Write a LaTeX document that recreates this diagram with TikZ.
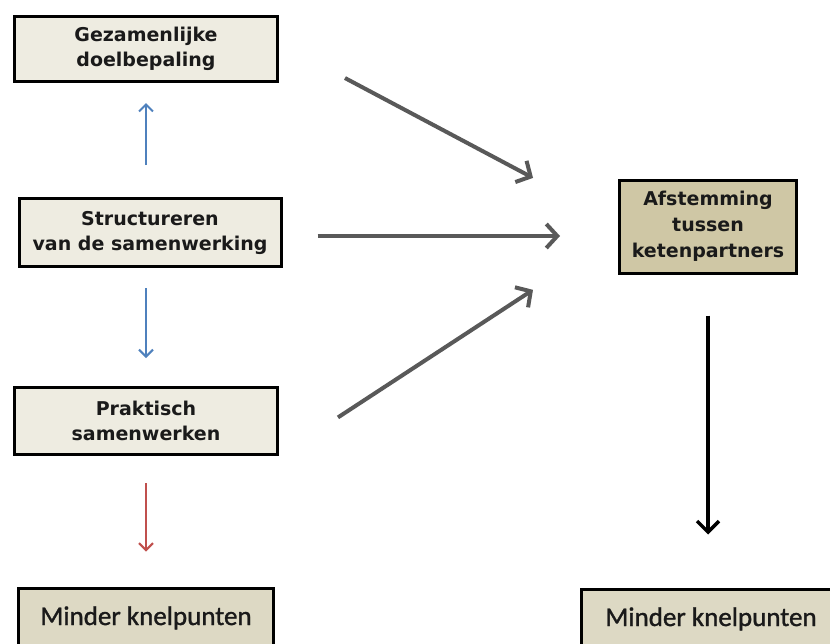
\documentclass[tikz,border=0pt]{standalone}
\usepackage{fontspec}
\setmainfont{DejaVu Sans}
\newfontfamily\calfont[FakeBold=1.2]{Carlito}
\usetikzlibrary{arrows.meta}
\definecolor{boxlight}{HTML}{EEECE1}
\definecolor{boxtan}{HTML}{CFC7A5}
\definecolor{boxmid}{HTML}{DDD9C4}
\definecolor{arrgray}{HTML}{595959}
\definecolor{arrblue}{HTML}{4F81BD}
\definecolor{arrred}{HTML}{C0504D}
\definecolor{txt}{HTML}{1A1A1A}
\begin{document}
\begin{tikzpicture}[x=1pt,y=-1pt,
  box/.style={draw=black, line width=3pt, fill=boxlight, align=center, text=txt,
    font=\fontsize{19}{25}\selectfont\bfseries, inner sep=0pt},
  endbox/.style={draw=black, line width=3pt, fill=boxmid, text=txt,
    font=\calfont\fontsize{27}{30}\selectfont, inner xsep=0pt, inner ysep=0pt,
    text height=37pt, text depth=35pt, anchor=base},
  grayarrow/.style={draw=arrgray, line width=4pt, -{Straight Barb[length=11pt,width=24pt]}},
  bluearrow/.style={draw=arrblue, line width=2pt, -{Straight Barb[length=7pt,width=14pt]}},
  redarrow/.style={draw=arrred, line width=2pt, -{Straight Barb[length=7pt,width=14pt]}},
  blackarrow/.style={draw=black, line width=3.5pt, -{Straight Barb[length=11pt,width=22pt]}}]
\clip (0,0) rectangle (830,643);
\fill[white] (0,0) rectangle (830,643);

\node[box, minimum width=263pt, minimum height=65pt] (b1) at (146,49) {Gezamenlijke\\doelbepaling};
\node[box, minimum width=262pt, minimum height=68pt] (b2) at (150,232.5) {Structureren\\van de samenwerking};
\node[box, minimum width=263pt, minimum height=67pt] (b3) at (146,421) {Praktisch\\samenwerken};
\node[box, fill=boxtan, minimum width=177pt, minimum height=93pt,
  font=\fontsize{19}{26}\selectfont\bfseries] (b4) at (708,226.5) {Afstemming\\tussen\\ketenpartners};
\node[endbox, minimum width=255pt] (m1) at (146,625) {Minder knelpunten};
\node[endbox, minimum width=260pt] (m2) at (711,626) {Minder knelpunten};

% vertical arrows
\draw[bluearrow, shorten <=32pt, shorten >=20pt] (b2.north -| b1.south) -- (b1.south);
\draw[bluearrow, shorten <=20pt, shorten >=28pt] (b2.south -| b3.north) -- (b3.north);
\draw[redarrow, shorten <=27pt, shorten >=35pt] (b3.south) -- (m1.north -| b3.south);
\draw[blackarrow, shorten <=41pt, shorten >=53pt] (b4.south) -- (m2.north -| b4.south);

% gray arrows
\draw[grayarrow, shorten <=74.7pt, shorten >=96.2pt] ([yshift=6pt]b1.east) -- ([yshift=3.5pt]b4.west);
\draw[grayarrow, shorten <=35pt, shorten >=58pt] ([yshift=-3.5pt]b2.east) -- ([yshift=-9.5pt]b4.west);
\draw[grayarrow, shorten <=70.5pt, shorten >=101.6pt] (b3.south east) -- ([yshift=-7.7pt]b4.west);
\end{tikzpicture}
\end{document}
